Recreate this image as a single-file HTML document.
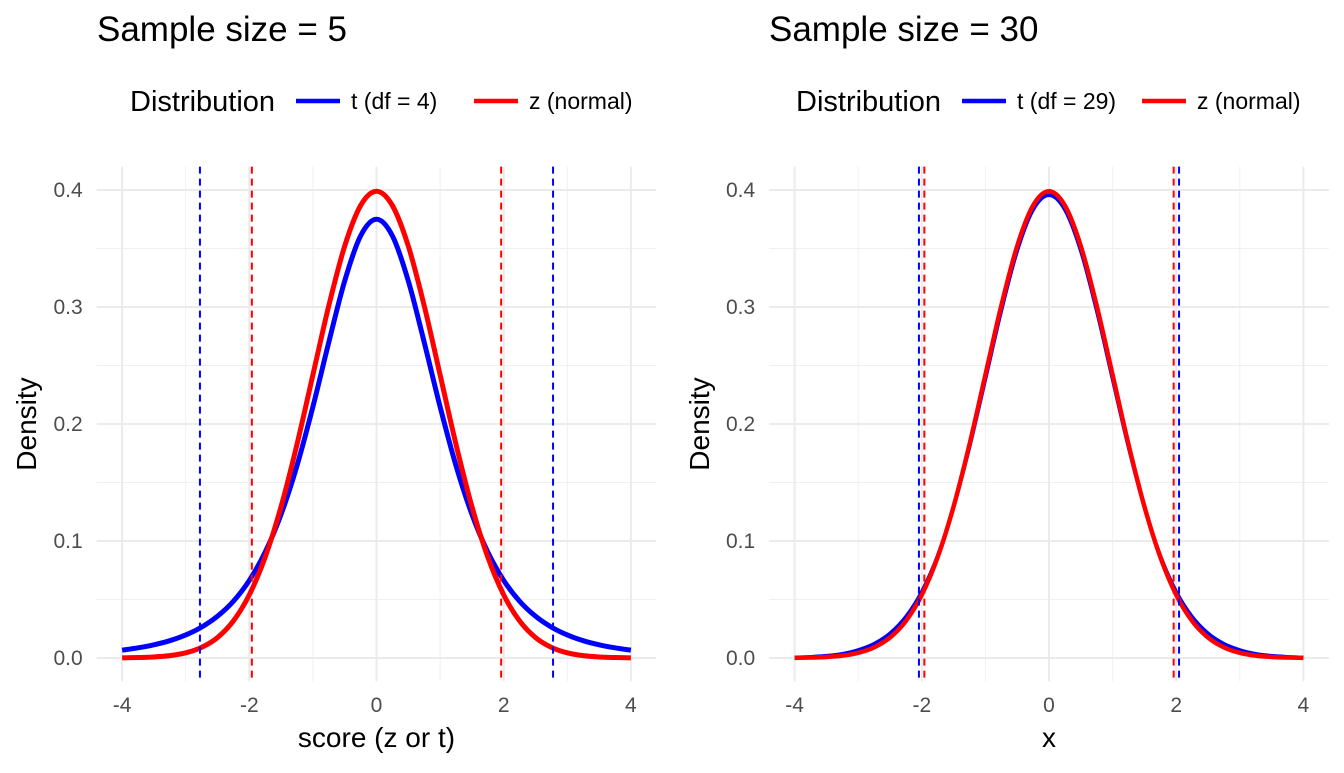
<!DOCTYPE html>
<html><head><meta charset="utf-8"><style>
body{margin:0;background:#fff;}
svg text{font-family:"Liberation Sans",Arial,sans-serif;}
</style></head><body>
<svg id="chart" width="1344" height="768" viewBox="0 0 1344 768" xmlns="http://www.w3.org/2000/svg"></svg>
<script>
// density values at x = 0, 0.25, ..., 4 (symmetric)
const xHalf = [0,0.25,0.5,0.75,1,1.25,1.5,1.75,2,2.25,2.5,2.75,3,3.25,3.5,3.75,4];
const zDens = [0.3989,0.3867,0.3521,0.3011,0.2420,0.1826,0.1295,0.0863,0.0540,0.0317,0.0175,0.0091,0.0044,0.0020,0.0009,0.0004,0.0001];
const t4Dens = [0.375,0.3608,0.3223,0.2699,0.2147,0.1644,0.1229,0.0905,0.0663,0.0485,0.0357,0.0264,0.0197,0.0148,0.0113,0.0087,0.0067];
const t29Dens = [0.3955,0.3829,0.3477,0.2965,0.2379,0.1800,0.1289,0.0877,0.0569,0.0354,0.0212,0.0122,0.0069,0.0037,0.0020,0.0011,0.0005];
const critLeft = [2.776, 1.96];
const critRight = [2.045, 1.96];
const xTicks = [-4,-2,0,2,4];
const yTicks = [0,0.1,0.2,0.3,0.4];
const yTickLabels = ["0.0","0.1","0.2","0.3","0.4"];

const NS="http://www.w3.org/2000/svg";
const svg=document.getElementById('chart');
function mk(tag,attrs,parent){const e=document.createElementNS(NS,tag);for(const k in attrs)e.setAttribute(k,attrs[k]);(parent||svg).appendChild(e);return e;}
function full(h){const xs=[],ys=[];for(let i=h.length-1;i>0;i--){xs.push(-xHalf[i]);ys.push(h[i]);}for(let i=0;i<h.length;i++){xs.push(xHalf[i]);ys.push(h[i]);}return [xs,ys];}
function smoothPath(pts){let d="M"+pts[0][0]+","+pts[0][1];for(let i=0;i<pts.length-1;i++){const p0=pts[Math.max(0,i-1)],p1=pts[i],p2=pts[i+1],p3=pts[Math.min(pts.length-1,i+2)];const c1=[p1[0]+(p2[0]-p0[0])/6,p1[1]+(p2[1]-p0[1])/6],c2=[p2[0]-(p3[0]-p1[0])/6,p2[1]-(p3[1]-p1[1])/6];d+=" C"+c1[0].toFixed(2)+","+c1[1].toFixed(2)+" "+c2[0].toFixed(2)+","+c2[1].toFixed(2)+" "+p2[0].toFixed(2)+","+p2[1].toFixed(2);}return d;}

function panel(cfg){
  const g=mk('g',{});
  
  
  const x0=cfg.x0, sx=63.6, y0=658, sy=1170;
  const X=v=>x0+v*sx, Y=v=>y0-v*sy;
  const left=X(-4.4), right=X(4.4), top=Y(0.42), bot=Y(-0.02);
  for(let v=-3;v<=3;v+=2){const l=mk('line',{x1:X(v),x2:X(v),y1:top,y2:bot,stroke:'#f0f0f0','stroke-width':1},g);}
  for(let v=0.05;v<0.4;v+=0.1){const l=mk('line',{x1:left,x2:right,y1:Y(v),y2:Y(v),stroke:'#f0f0f0','stroke-width':1},g);}
  xTicks.forEach(v=>{const l=mk('line',{x1:X(v),x2:X(v),y1:top,y2:bot,stroke:'#ebebeb','stroke-width':2},g);
    const t=mk('text',{x:X(v),y:712,'text-anchor':'middle','font-size':21,fill:'#4d4d4d'},g);t.textContent=String(v);});
  yTicks.forEach((v,i)=>{const l=mk('line',{x1:left,x2:right,y1:Y(v),y2:Y(v),stroke:'#ebebeb','stroke-width':2},g);
    const t=mk('text',{x:left-14,y:Y(v)+7,'text-anchor':'end','font-size':21,fill:'#4d4d4d'},g);t.textContent=yTickLabels[i];});
  cfg.series.forEach(s=>{const [xs,ys]=full(s.data);const pts=xs.map((v,i)=>[X(v),Y(ys[i])]);const p=mk('path',{d:smoothPath(pts),fill:'none',stroke:s.color,'stroke-width':s.w,'stroke-linejoin':'round'},g);});
  cfg.crit.forEach((c,i)=>{const col=i===0?'#0000ff':'#ff0000';[-c,c].forEach(v=>{const l=mk('line',{x1:X(v),x2:X(v),y1:top,y2:bot,stroke:col,'stroke-width':2,'stroke-dasharray':'7,5'},g);});});
  let t=mk('text',{x:cfg.titleX,y:41,'font-size':35,fill:'#000'},g);t.textContent=cfg.title;
  t=mk('text',{x:X(0),y:747,'text-anchor':'middle','font-size':28,fill:'#000'},g);t.textContent=cfg.xlab;
  t=mk('text',{x:0,y:0,'text-anchor':'middle','font-size':28,fill:'#000',transform:`translate(${cfg.ylabX},424) rotate(-90)`},g);t.textContent='Density';
  const L=cfg.legend;
  t=mk('text',{x:L.title,y:111,'font-size':29,fill:'#000'},g);t.textContent='Distribution';
  L.items.forEach(it=>{const l=mk('line',{x1:it.x,x2:it.x+44,y1:101,y2:101,stroke:it.color,'stroke-width':4.5},g);
    const tt=mk('text',{x:it.x+55,y:109,'font-size':23,fill:'#000'},g);tt.textContent=it.text;});
}
panel({name:'panel-sample-5',x0:376.5,title:'Sample size = 5',titleX:97,xlab:'score (z or t)',ylabX:36,crit:critLeft,
  series:[{data:t4Dens,color:'#0000ff',w:5,label:'t-curve'},{data:zDens,color:'#ff0000',w:5,label:'z-curve'}],
  legend:{title:130,items:[{x:296,color:'#0000ff',text:'t (df = 4)'},{x:474,color:'#ff0000',text:'z (normal)'}]}});
panel({name:'panel-sample-30',x0:1049,title:'Sample size = 30',titleX:769,xlab:'x',ylabX:709,crit:critRight,
  series:[{data:t29Dens,color:'#0000ff',w:3.5,label:'t-curve'},{data:zDens,color:'#ff0000',w:4.5,label:'z-curve'}],
  legend:{title:796,items:[{x:962,color:'#0000ff',text:'t (df = 29)'},{x:1142,color:'#ff0000',text:'z (normal)'}]}});
</script>
</body></html>
